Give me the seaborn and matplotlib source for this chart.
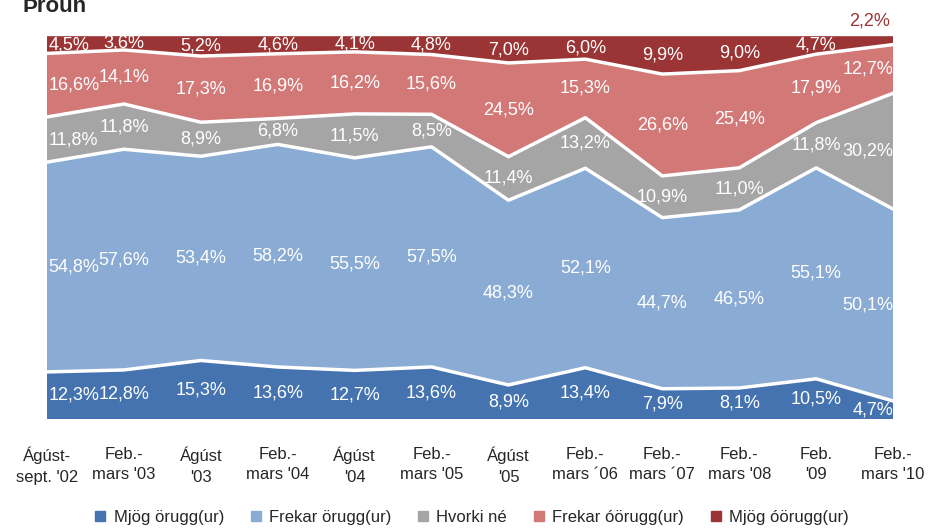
import numpy as np
import pandas as pd
import matplotlib
matplotlib.use("Agg")
import matplotlib.pyplot as plt
import seaborn as sns

categories = ["Ágúst-\nsept. '02", "Feb.-\nmars '03", "Ágúst\n'03", "Feb.-\nmars '04",
              "Ágúst\n'04", "Feb.-\nmars '05", "Ágúst\n'05", "Feb.-\nmars ´06",
              "Feb.-\nmars ´07", "Feb.-\nmars '08", "Feb.\n'09", "Feb.-\nmars '10"]
series_names = ["Mjög örugg(ur)", "Frekar örugg(ur)", "Hvorki né", "Frekar óörugg(ur)", "Mjög óörugg(ur)"]
mjog_orugg = [12.3, 12.8, 15.3, 13.6, 12.7, 13.6, 8.9, 13.4, 7.9, 8.1, 10.5, 4.7]
frekar_orugg = [54.8, 57.6, 53.4, 58.2, 55.5, 57.5, 48.3, 52.1, 44.7, 46.5, 55.1, 50.1]
hvorki = [11.8, 11.8, 8.9, 6.8, 11.5, 8.5, 11.4, 13.2, 10.9, 11.0, 11.8, 30.2]
frekar_oorugg = [16.6, 14.1, 17.3, 16.9, 16.2, 15.6, 24.5, 15.3, 26.6, 25.4, 17.9, 12.7]
mjog_oorugg = [4.5, 3.6, 5.2, 4.6, 4.1, 4.8, 7.0, 6.0, 9.9, 9.0, 4.7, 2.2]
colors = ["#4473b0", "#8aabd3", "#a5a5a5", "#d27877", "#9b3535"]

sns.set_theme(style="white")
plt.rcParams['font.family'] = ['Liberation Sans', 'DejaVu Sans']

data = np.array([mjog_orugg, frekar_orugg, hvorki, frekar_oorugg, mjog_oorugg])
norm = data / data.sum(axis=0) * 100
x = np.arange(len(categories))

fig = plt.figure(figsize=(9.44, 5.32), dpi=100)
ax = fig.add_axes([0.0498, 0.2124, 0.8962, 0.7196])
ax.stackplot(x, norm, colors=colors, edgecolor="none")
cum = np.cumsum(norm, axis=0)
for k in range(len(series_names) - 1):
    df = pd.DataFrame({"x": x, "y": cum[k]})
    sns.lineplot(data=df, x="x", y="y", ax=ax, color="white", lw=2.5, legend=False)
ax.set_xlim(0, len(categories) - 1)
ax.set_ylim(0, 100)
ax.set_xlabel("")
ax.set_ylabel("")
ax.set_yticks([])
ax.set_xticks(x)
ax.set_xticklabels(categories, fontsize=12, linespacing=1.45)
ax.tick_params(axis='x', length=0, pad=20)
for s in ax.spines.values():
    s.set_visible(False)

bottoms = cum - norm
n = len(categories)
for k in range(len(series_names)):
    for i in range(n):
        val = data[k, i]
        yc = bottoms[k, i] + norm[k, i] / 2
        txt = f"{val:.1f}%".replace(".", ",")
        if k == 4 and i == n - 1:
            ax.text(i - 0.3, 104, txt, ha="center", va="center", color="#9b3535", fontsize=13)
            continue
        if i == 0:
            ax.text(i + 0.02, yc, txt, ha="left", va="center", color="white", fontsize=13)
        elif i == n - 1:
            ax.text(i, yc, txt, ha="right", va="center", color="white", fontsize=13)
        else:
            ax.text(i, yc, txt, ha="center", va="center", color="white", fontsize=13)

fig.text(0.024, 1 - 12 / 532, "Þróun", fontsize=16, fontweight="bold", ha="left", va="baseline")

handles = [plt.Rectangle((0, 0), 1, 1, color=c) for c in colors]
fig.legend(handles, series_names, loc="lower center", bbox_to_anchor=(0.5, -0.015), ncol=5,
           frameon=False, fontsize=12, handlelength=0.6, handleheight=0.6, columnspacing=1.6,
           handletextpad=0.5)

fig.savefig("out.png", dpi=100)
